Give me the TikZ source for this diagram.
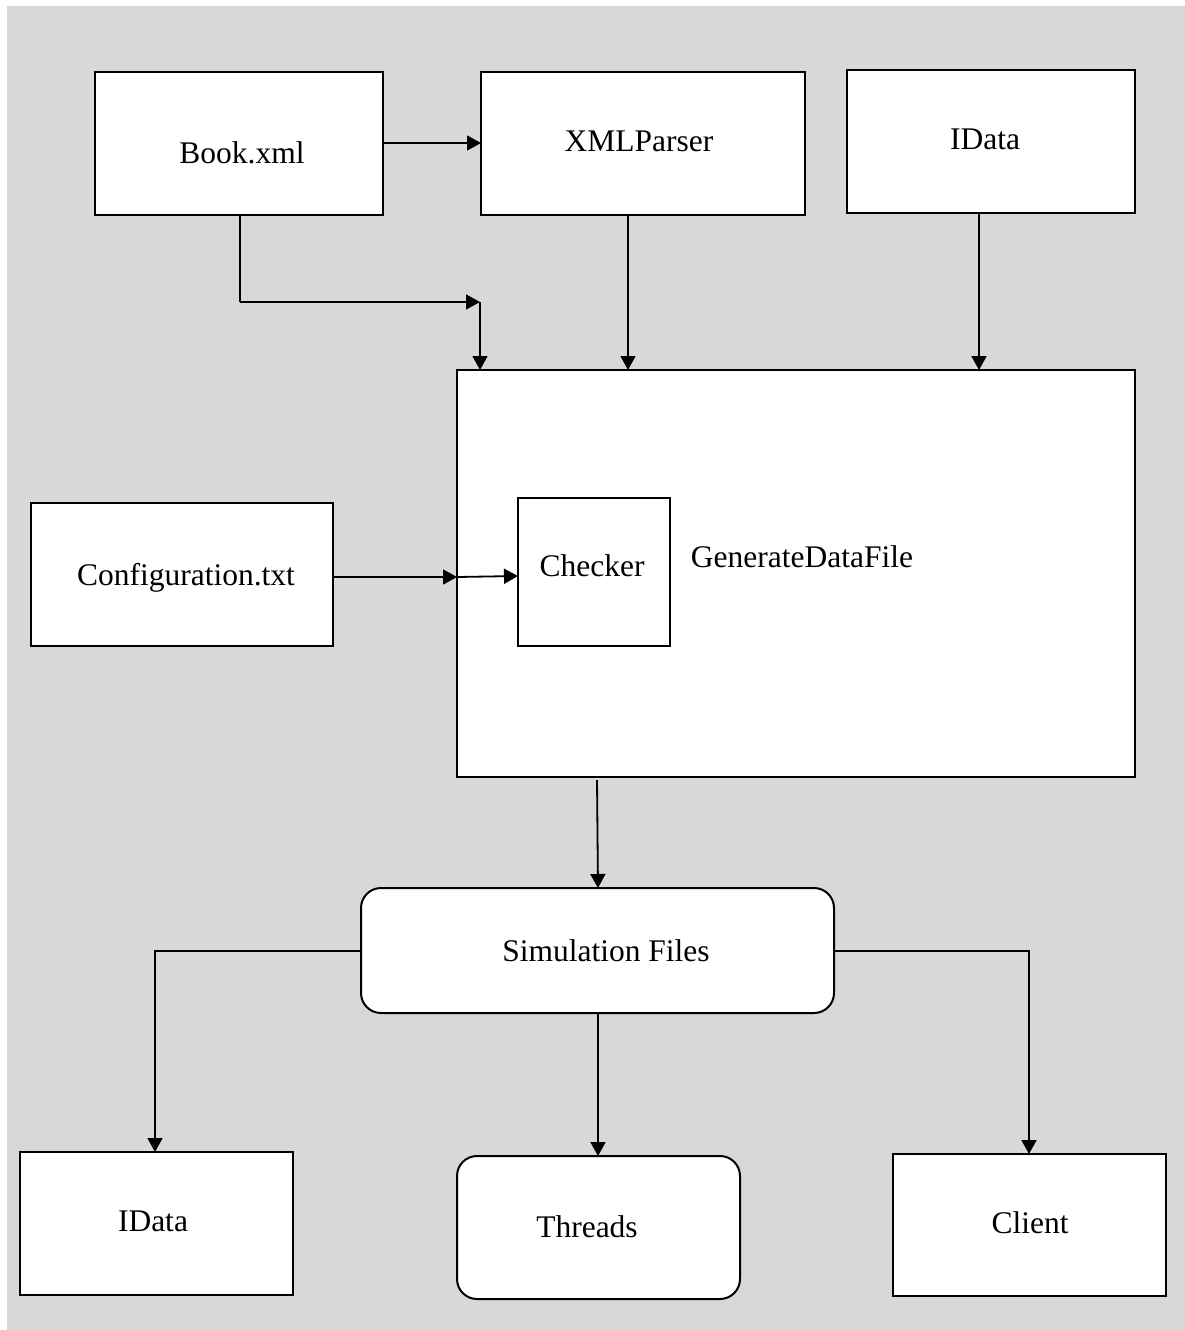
\documentclass[tikz,border=0pt]{standalone}
\usepackage{fontspec}
\setmainfont{Liberation Serif}
\usetikzlibrary{arrows.meta}
\begin{document}
\begin{tikzpicture}[x=1pt,y=-1pt,
  box/.style={draw=black,line width=2pt,fill=white,inner sep=0pt},
  rbox/.style={box,rounded corners=20pt},
  lbl/.style={inner sep=0pt,font=\fontsize{31.5}{36}\selectfont},
  conn/.style={line width=1.8pt,-{Triangle[length=14pt,width=15pt]}},
  seg/.style={line width=1.8pt}]
\useasboundingbox (0,0) rectangle (1185,1330);
\fill[fill={rgb,255:red,216;green,216;blue,216}] (7,6) rectangle (1185,1330);

% boxes
\draw[box] (95,72) rectangle (383,215) node[pos=0.5] (book) {};
\draw[box] (481,72) rectangle (805,215) node[pos=0.5] (parser) {};
\draw[box] (847,70) rectangle (1135,213) node[pos=0.5] (idataA) {};
\draw[box] (457,370) rectangle (1135,777) node[pos=0.5] (gen) {};
\draw[box] (518,498) rectangle (670,646) node[pos=0.5] (checker) {};
\draw[box] (31,503) rectangle (333,646) node[pos=0.5] (config) {};
\draw[rbox] (361,888) rectangle (834,1013) node[pos=0.5] (sim) {};
\draw[box] (20,1152) rectangle (293,1295) node[pos=0.5] (idataB) {};
\draw[rbox] (457,1156) rectangle (740,1299) node[pos=0.5] (threads) {};
\draw[box] (893,1154) rectangle (1166,1296) node[pos=0.5] (client) {};

% labels
\node[lbl] (bookT) at (242,153) {Book.xml};
\node[lbl] (parserT) at (639,141) {XMLParser};
\node[lbl] (idataAT) at (985,139) {IData};
\node[lbl] (genT) at (802,557) {GenerateDataFile};
\node[lbl] (checkerT) at (592,566) {Checker};
\node[lbl] (configT) at (186,578) {Configuration.txt};
\node[lbl] (simT) at (606,951) {Simulation Files};
\node[lbl] (idataBT) at (153,1221) {IData};
\node[lbl] (threadsT) at (587,1227) {Threads};
\node[lbl] (clientT) at (1030,1223) {Client};

% connection points
\coordinate (bookR) at (383,143);
\coordinate (parserL) at (481,143);
\coordinate (bookB) at (240,215);
\coordinate (bend1) at (240,302);
\coordinate (bend2) at (480,302);
\coordinate (genA) at (480,370);
\coordinate (parserB) at (628,215);
\coordinate (genB) at (628,370);
\coordinate (idataAB) at (979,213);
\coordinate (genC) at (979,370);
\coordinate (configR) at (333,577);
\coordinate (genL) at (457,577);
\coordinate (checkerL) at (518,576);
\coordinate (genBot) at (597,780);
\coordinate (simTop) at (598,888);
\coordinate (simL) at (361,951);
\coordinate (bendL) at (155,951);
\coordinate (idataBTop) at (155,1152);
\coordinate (simB) at (598,1013);
\coordinate (threadsTop) at (598,1156);
\coordinate (simR) at (834,951);
\coordinate (bendR) at (1029,951);
\coordinate (clientTop) at (1029,1154);

% connectors
\draw[conn] (bookR) -- (parserL);
\draw[seg] (bookB) -- (bend1);
\draw[conn] (bend1) -- (bend2);
\draw[conn] (bend2) -- (genA);
\draw[conn] (parserB) -- (genB);
\draw[conn] (idataAB) -- (genC);
\draw[conn] (configR) -- (genL);
\draw[conn] (genL) -- (checkerL);
\draw[conn] (genBot) -- (simTop);
\draw[conn] (simL) -- (bendL) -- (idataBTop);
\draw[conn] (simB) -- (threadsTop);
\draw[conn] (simR) -- (bendR) -- (clientTop);
\end{tikzpicture}
\end{document}
